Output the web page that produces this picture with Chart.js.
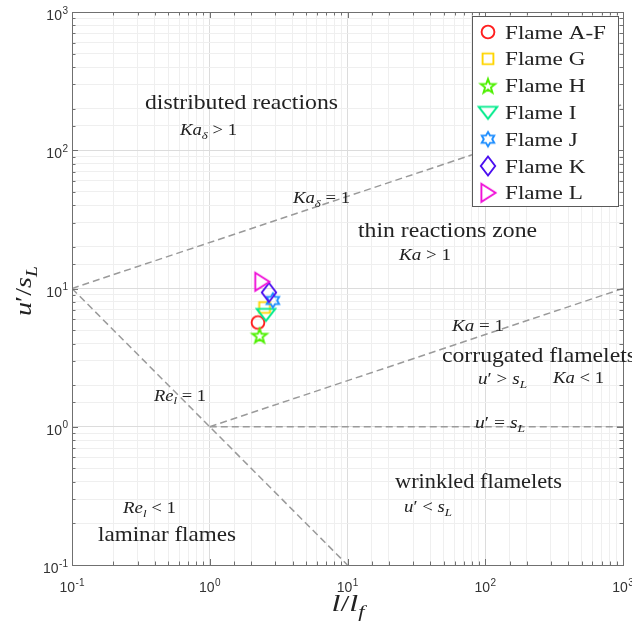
<!DOCTYPE html>
<html><head><meta charset="utf-8">
<script src="https://cdn.jsdelivr.net/npm/chart.js@4.4.1/dist/chart.umd.min.js"></script>
<style>html,body{margin:0;padding:0;background:#fff;}#wrap{width:632px;height:624px;}</style>
</head><body><div id="wrap"><canvas id="c" width="632" height="624" style="width:632px;height:624px"></canvas></div>
<script>
// ---- data ----
const flameNames = ['Flame A-F','Flame G','Flame H','Flame I','Flame J','Flame K','Flame L'];
const flameX = [2.24, 2.50, 2.30, 2.56, 2.87, 2.69, 2.39];
const flameY = [5.68, 7.29, 4.58, 6.49, 8.19, 9.36, 11.2];
const flameColors = ['#ff1f1f','#ffd500','#4ef000','#00eb8c','#1c8dff','#4b0ff0','#f010d8'];
const flameMarkers = ['circle','square','pentagram','triangleDown','hexagram','diamond','triangleRight'];

const kaDeltaX = [0.1, 1000], kaDeltaY = [10, 215];
const kaX = [1, 1000], kaY = [1, 10];
const uEqX = [1, 1000], uEqY = [1, 1];
const reX = [0.1, 10], reY = [10, 0.1];

const tickValues = [0.1, 1, 10, 100, 1000];
const tickBase = '10';
const tickExpLabels = ['-1', '0', '1', '2', '3'];

// ---- helpers ----
const SERIF = '"Liberation Serif","Times New Roman",serif';
const SANS = '"Liberation Sans", Arial, sans-serif';
const TXT = '#222';
const AXIS = '#707070';
function isMajor(v){ const e = Math.log10(v); return Math.abs(e - Math.round(e)) < 1e-6; }
function starPath(g, cx, cy, ro, ri, n){
  for (let k = 0; k < 2*n; k++){
    const r = k % 2 ? ri : ro;
    const a = -Math.PI/2 + k*Math.PI/n;
    const px = cx + r*Math.cos(a), py = cy + r*Math.sin(a);
    k ? g.lineTo(px, py) : g.moveTo(px, py);
  }
  g.closePath();
}
function makeMarker(kind, color){
  const S = 28, m = S/2;
  const c = document.createElement('canvas'); c.width = S; c.height = S;
  const g = c.getContext('2d');
  g.strokeStyle = color; g.lineWidth = 1.9; g.lineJoin = 'miter';
  g.beginPath();
  switch(kind){
    case 'circle': g.arc(m, m, 6.4, 0, 2*Math.PI); break;
    case 'square': g.rect(m-5.4, m-5.4, 10.8, 10.8); break;
    case 'pentagram': starPath(g, m, m+0.8, 7.6, 3.1, 5); break;
    case 'hexagram': starPath(g, m, m, 7.2, 4.2, 6); break;
    case 'triangleDown': g.moveTo(m-9.3, m-5.6); g.lineTo(m+9.3, m-5.6); g.lineTo(m, m+6.4); g.closePath(); break;
    case 'diamond': g.moveTo(m, m-9.5); g.lineTo(m+7.2, m); g.lineTo(m, m+9.5); g.lineTo(m-7.2, m); g.closePath(); break;
    case 'triangleRight': g.moveTo(m-6.6, m-9); g.lineTo(m+7.6, m); g.lineTo(m-6.6, m+9); g.closePath(); break;
  }
  g.stroke();
  return c;
}
const markerImgs = flameMarkers.map((k, i) => makeMarker(k, flameColors[i]));

function rich(ctx, segs, x, y, size, opt){
  opt = opt || {};
  const fontFor = st => (st[0] === 'i' ? 'italic ' : '') + (st.length > 1 ? Math.round(size*0.7) : size) + 'px ' + SERIF;
  const widths = segs.map(([t, st]) => { ctx.font = fontFor(st); return ctx.measureText(t).width; });
  const total = widths.reduce((a, b) => a + b, 0);
  const sc = opt.w ? opt.w/total : (opt.scale || 1);
  ctx.save();
  ctx.translate(x, y);
  if (opt.rot) ctx.rotate(opt.rot);
  ctx.scale(sc, 1);
  ctx.fillStyle = opt.color || TXT;
  ctx.textBaseline = 'alphabetic';
  ctx.textAlign = 'left';
  let cx = opt.left ? 0 : -total/2;
  segs.forEach(([t, st], i) => {
    ctx.font = fontFor(st);
    ctx.fillText(t, cx, st.length > 1 ? size*0.24 : 0);
    cx += widths[i];
  });
  ctx.restore();
  return total*sc;
}
// power-of-ten tick label: align 'center' or 'right' at x, digits baseline at y
function powLabel(ctx, exp, x, y, align){
  ctx.font = '14px ' + SANS;
  const wb = ctx.measureText(tickBase).width;
  ctx.font = '10px ' + SANS;
  const we = ctx.measureText(exp).width;
  const total = wb + we + 0.5;
  const x0 = align === 'right' ? x - total : x - total/2;
  ctx.fillStyle = '#333';
  ctx.textAlign = 'left'; ctx.textBaseline = 'alphabetic';
  ctx.font = '14px ' + SANS;
  ctx.fillText(tickBase, x0, y);
  ctx.font = '10px ' + SANS;
  ctx.fillText(exp, x0 + wb + 0.5, y - 6.5);
}

const regionLabels = [
  {s:[['distributed reactions','r']], x:241.5, y:109, size:21, w:193},
  {s:[['Ka','i'],['\u03B4','is'],[' > 1','r']], x:208.5, y:135, size:16, w:57},
  {s:[['Ka','i'],['\u03B4','is'],[' = 1','r']], x:321.5, y:203, size:16, w:57},
  {s:[['thin reactions zone','r']], x:447.5, y:237, size:21, w:179},
  {s:[['Ka','i'],[' > 1','r']], x:425, y:260, size:16, w:52},
  {s:[['Ka','i'],[' = 1','r']], x:478, y:331, size:16, w:52},
  {s:[['corrugated flamelets','r']], x:442, y:362, size:21, w:194, left:true},
  {s:[['u','i'],['\u2032','r'],[' > ','r'],['s','i'],['L','is']], x:502.5, y:384, size:16, w:49},
  {s:[['Ka','i'],[' < 1','r']], x:578.5, y:383, size:16, w:51},
  {s:[['u','i'],['\u2032','r'],[' = ','r'],['s','i'],['L','is']], x:500, y:428, size:16, w:50},
  {s:[['Re','i'],['l','is'],[' = 1','r']], x:180, y:400.5, size:16, w:52},
  {s:[['wrinkled flamelets','r']], x:478.5, y:488, size:21, w:167},
  {s:[['u','i'],['\u2032','r'],[' < ','r'],['s','i'],['L','is']], x:428, y:512, size:16, w:48},
  {s:[['Re','i'],['l','is'],[' < 1','r']], x:149.5, y:513, size:16, w:53},
  {s:[['laminar flames','r']], x:167, y:541, size:21, w:138}
];

const overlay = {
  id: 'overlay',
  afterDraw(chart){
    const ctx = chart.ctx, a = chart.chartArea;
    const xs = chart.scales.x, ys = chart.scales.y;
    ctx.save();
    // inward ticks
    ctx.strokeStyle = AXIS; ctx.lineWidth = 1;
    ctx.beginPath();
    xs.ticks.forEach(t => {
      const p = Math.round(xs.getPixelForValue(t.value)) + 0.5;
      const len = isMajor(t.value) ? 6 : 3.5;
      ctx.moveTo(p, a.bottom); ctx.lineTo(p, a.bottom - len);
      ctx.moveTo(p, a.top); ctx.lineTo(p, a.top + len);
    });
    ys.ticks.forEach(t => {
      const p = Math.round(ys.getPixelForValue(t.value)) + 0.5;
      const len = isMajor(t.value) ? 6 : 3.5;
      ctx.moveTo(a.left, p); ctx.lineTo(a.left + len, p);
      ctx.moveTo(a.right, p); ctx.lineTo(a.right - len, p);
    });
    ctx.stroke();
    // box
    ctx.strokeRect(Math.round(a.left) + 0.5, Math.round(a.top) + 0.5, Math.round(a.right - a.left), Math.round(a.bottom - a.top));
    // tick labels (positions from the library's scales)
    tickValues.forEach((v, i) => {
      powLabel(ctx, tickExpLabels[i], xs.getPixelForValue(v), a.bottom + 27, 'center');
      powLabel(ctx, tickExpLabels[i], a.left - 4, ys.getPixelForValue(v) + 8, 'right');
    });
    // region labels
    regionLabels.forEach(L => rich(ctx, L.s, L.x, L.y, L.size, {w: L.w, left: L.left}));
    // axis titles
    rich(ctx, [['l','i'],['/','r'],['l','i'],['f','is']], 348, 611, 23, {w: 33});
    rich(ctx, [['u','i'],['\u2032','r'],['/','r'],['s','i'],['L','is']], 31, 291, 23, {w: 50, rot: -Math.PI/2});
    // legend
    const lx = 472, ly = 16, lw = 146, lh = 190;
    ctx.fillStyle = '#fff';
    ctx.fillRect(lx, ly, lw, lh);
    ctx.strokeStyle = '#5a5a5a'; ctx.lineWidth = 1;
    ctx.strokeRect(lx + 0.5, ly + 0.5, lw, lh);
    ctx.font = '19px ' + SERIF;
    const lsc = 101 / ctx.measureText(flameNames[0]).width;
    flameNames.forEach((n, i) => {
      const cy = 32 + 26.8*i;
      const img = markerImgs[i];
      ctx.drawImage(img, 488 - img.width/2, cy - img.height/2);
      rich(ctx, [[n, 'r']], 505, cy + 6.5, 19, {left: true, scale: lsc});
    });
    ctx.restore();
  }
};

const pts = (xs, ys) => xs.map((x, i) => ({x: x, y: ys[i]}));
const guide = (xs, ys) => ({
  data: pts(xs, ys), showLine: true, borderColor: '#9a9a9a', borderWidth: 1.5,
  borderDash: [7, 4], pointRadius: 0, fill: false, order: 20
});
const datasets = [guide(kaDeltaX, kaDeltaY), guide(kaX, kaY), guide(uEqX, uEqY), guide(reX, reY)];
flameNames.forEach((n, i) => datasets.push({
  label: n, data: [{x: flameX[i], y: flameY[i]}], showLine: false,
  pointStyle: markerImgs[i], pointRadius: 8, borderColor: flameColors[i],
  backgroundColor: 'transparent', order: 10 - i
}));

const gridColor = c => (c.tick && isMajor(c.tick.value)) ? '#dcdcdc' : '#efefef';

new Chart(document.getElementById('c'), {
  type: 'scatter',
  data: {datasets},
  options: {
    responsive: false, animation: false, devicePixelRatio: 1,
    layout: {padding: {top: 12, right: 6, left: 0, bottom: 0}},
    plugins: {legend: {display: false}, tooltip: {enabled: false}},
    scales: {
      x: {
        type: 'logarithmic', min: 0.1, max: 1000, position: 'bottom',
        grid: {color: gridColor, drawTicks: false, lineWidth: 1},
        border: {display: false},
        ticks: {display: false, autoSkip: false},
        afterFit: s => { s.height = 59; s.paddingLeft = 0; s.paddingRight = 0; }
      },
      y: {
        type: 'logarithmic', min: 0.1, max: 1000,
        grid: {color: gridColor, drawTicks: false, lineWidth: 1},
        border: {display: false},
        ticks: {display: false, autoSkip: false},
        afterFit: s => { s.width = 72; s.paddingTop = 0; s.paddingBottom = 0; }
      }
    }
  },
  plugins: [overlay]
});
</script></body></html>
